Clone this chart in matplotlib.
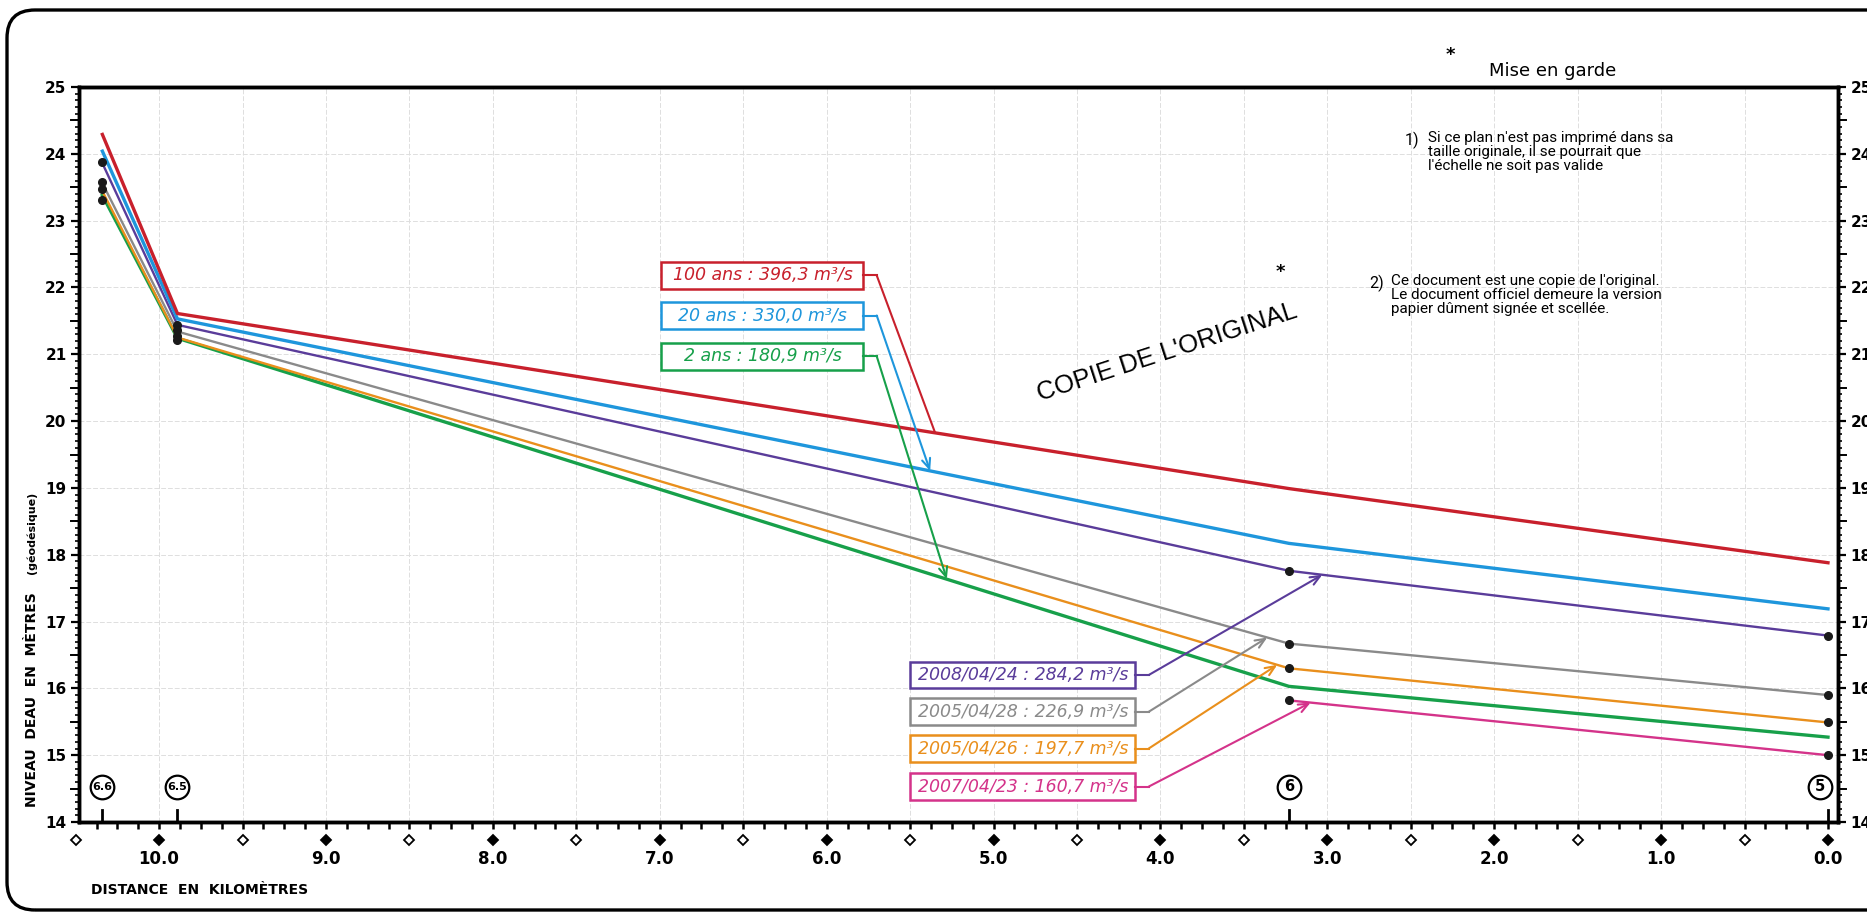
import numpy as np
import matplotlib.pyplot as plt
import matplotlib.transforms as mtransforms
from matplotlib.patches import FancyBboxPatch, Rectangle
from matplotlib.ticker import MultipleLocator, FixedLocator

plt.rcParams['font.family'] = ['DejaVu Sans']

# sections de calcul et leur distance (km)
stations = ['6.6', '6.5', '6', '5']
dist_km = [10.34, 9.89, 3.23, 0.0]

# niveaux d'eau calculés (m, géodésique) aux sections
niv_100ans = [24.29, 21.61, 18.99, 17.88]
niv_20ans = [24.04, 21.53, 18.17, 17.19]
niv_2ans = [23.38, 21.24, 16.03, 15.27]
niv_20080424 = [23.86, 21.44, 17.76, 16.79]
niv_20050428 = [23.56, 21.34, 16.67, 15.90]
niv_20050426 = [23.44, 21.25, 16.30, 15.49]
niv_20070423 = [np.nan, np.nan, 15.82, 15.00]

# niveaux observés (points noirs)
obs_20080424 = [23.88, 21.44, 17.76, 16.79]
obs_20050428 = [23.58, 21.36, 16.67, 15.90]
obs_20050426 = [23.48, 21.28, 16.30, 15.49]
obs_20070423 = [23.31, 21.21, 15.82, 15.00]

etiquettes = ['100 ans : 396,3 m³/s', '20 ans : 330,0 m³/s', '2 ans : 180,9 m³/s',
              '2008/04/24 : 284,2 m³/s', '2005/04/28 : 226,9 m³/s',
              '2005/04/26 : 197,7 m³/s', '2007/04/23 : 160,7 m³/s']

ROUGE = '#c8202c'
BLEU = '#1e96dc'
VERT = '#17a04a'
VIOLET = '#5a3c9a'
GRIS = '#8a8a8a'
ORANGE = '#e98f1c'
ROSE = '#d4338a'

W, H = 1867, 916
fig = plt.figure(figsize=(W / 100, H / 100), dpi=100)
ax = fig.add_axes([79 / W, 1 - 822 / H, (1838 - 79) / W, (822 - 87) / H])
ax.set_xlim(10.48, -0.06)
ax.set_ylim(14, 25)

# quadrillage
for xg in np.arange(0.5, 10.5, 0.5):
    ax.axvline(xg, color='#dedede', lw=0.7, ls=(0, (5, 2)), zorder=0)
for yg in range(15, 25):
    ax.axhline(yg, color='#dedede', lw=0.7, ls=(0, (5, 2)), zorder=0)

# profils
ax.plot(dist_km, niv_20070423, color=ROSE, lw=1.7, zorder=3)
ax.plot(dist_km, niv_2ans, color=VERT, lw=2.4, zorder=3)
ax.plot(dist_km, niv_20050426, color=ORANGE, lw=1.7, zorder=3)
ax.plot(dist_km, niv_20050428, color=GRIS, lw=1.7, zorder=3)
ax.plot(dist_km, niv_20080424, color=VIOLET, lw=1.7, zorder=3)
ax.plot(dist_km, niv_20ans, color=BLEU, lw=2.4, zorder=3)
ax.plot(dist_km, niv_100ans, color=ROUGE, lw=2.4, zorder=3)

for obs in (obs_20080424, obs_20050428, obs_20050426, obs_20070423):
    ax.plot(dist_km, obs, 'o', color='#1a1a1a', ms=5.5, zorder=4)


def etiquette(texte, couleur, x_g, x_d, y_c, serie, x_cible, fleche=True):
    ax.add_patch(Rectangle((x_d, y_c - 0.2), x_g - x_d, 0.4, fc='white',
                           ec=couleur, lw=1.8, zorder=5))
    ax.text((x_g + x_d) / 2, y_c, texte, color=couleur, ha='center', va='center',
            style='italic', fontsize=12.5, zorder=6)
    y_cible = np.interp(x_cible, dist_km[::-1], serie[::-1])
    x_coude = x_d - 0.08
    ax.plot([x_d, x_coude], [y_c, y_c], color=couleur, lw=1.5, zorder=5)
    ax.annotate('', xy=(x_cible, y_cible), xytext=(x_coude, y_c),
                arrowprops=dict(arrowstyle='->,head_length=0.7,head_width=0.3' if fleche else '-',
                                color=couleur, lw=1.5, shrinkA=0, shrinkB=0), zorder=5)


etiquette(etiquettes[0], ROUGE, 6.99, 5.78, 22.18, niv_100ans, 5.35, fleche=False)
etiquette(etiquettes[1], BLEU, 6.99, 5.78, 21.58, niv_20ans, 5.38)
etiquette(etiquettes[2], VERT, 6.99, 5.78, 20.97, niv_2ans, 5.28)
etiquette(etiquettes[3], VIOLET, 5.50, 4.15, 16.20, niv_20080424, 3.03)
etiquette(etiquettes[4], GRIS, 5.50, 4.15, 15.65, niv_20050428, 3.36)
etiquette(etiquettes[5], ORANGE, 5.50, 4.15, 15.10, niv_20050426, 3.30)
etiquette(etiquettes[6], ROSE, 5.50, 4.15, 14.53, niv_20070423, 3.10)

# sections
for nom, d in zip(stations, dist_km):
    ax.plot([d, d], [14, 14.18], color='black', lw=2, zorder=4)
    xc = max(d, 0.05)
    ax.plot(xc, 14.53, 'o', ms=17, mfc='white', mec='black', mew=1.6, zorder=4)
    ax.text(xc, 14.53, nom, ha='center', va='center', fontsize=8 if '.' in nom else 10.5,
            fontweight='bold', zorder=5)

# axes
for s in ax.spines.values():
    s.set_linewidth(2.5)
ax.xaxis.set_major_locator(FixedLocator(np.arange(0, 11, 1)))
ax.xaxis.set_minor_locator(MultipleLocator(0.125))
ax.set_xticklabels(['%.1f' % v for v in np.arange(0, 11, 1)])
ax.tick_params(axis='x', which='both', direction='out', length=5, width=1.8, pad=15,
               labelsize=12)
ax.yaxis.set_major_locator(MultipleLocator(1))
ax.yaxis.set_minor_locator(MultipleLocator(0.1))
ax.tick_params(axis='y', which='major', direction='out', length=6, width=1.6, pad=3,
               labelsize=11)
ax.tick_params(axis='y', which='minor', direction='out', length=3, width=1.2)
for lab in ax.get_xticklabels() + ax.get_yticklabels():
    lab.set_fontweight('bold')

axd = ax.twinx()
axd.set_ylim(14, 25)
axd.yaxis.set_major_locator(MultipleLocator(1))
axd.yaxis.set_minor_locator(MultipleLocator(0.1))
axd.tick_params(axis='y', which='major', direction='out', length=6, width=1.6, pad=3,
                labelsize=11)
axd.tick_params(axis='y', which='minor', direction='out', length=3, width=1.2)
for lab in axd.get_yticklabels():
    lab.set_fontweight('bold')
for s in axd.spines.values():
    s.set_linewidth(2.5)

# demi-graduations et losanges
tr_y = mtransforms.blended_transform_factory(ax.transAxes, ax.transData)
for yh in np.arange(14.5, 25, 1.0):
    ax.plot([-0.0045, 0], [yh, yh], color='black', lw=1.4, transform=tr_y, clip_on=False)
    ax.plot([1, 1.0045], [yh, yh], color='black', lw=1.4, transform=tr_y, clip_on=False)
tr_x = mtransforms.blended_transform_factory(ax.transData, ax.transAxes)
for xd in np.arange(0, 10.51, 0.5):
    plein = abs(xd - round(xd)) < 1e-6
    ax.plot(xd, -0.0245, 'D', ms=5, mec='black', mew=1.3,
            mfc='black' if plein else 'white', transform=tr_x, clip_on=False)

# titres d'axes
fig.text(32 / W, 1 - 700 / H, 'NIVEAU  DEAU  EN  MÈTRES', rotation=90, ha='center',
         va='center', fontsize=10, fontweight='bold')
fig.text(32 / W, 1 - 533 / H, '(géodésique)', rotation=90, ha='center', va='center',
         fontsize=8, fontweight='bold')
fig.text(91 / W, 1 - 890 / H, 'DISTANCE  EN  KILOMÈTRES', ha='left', va='center',
         fontsize=10, fontweight='bold')

# notes
police = ['Roboto', 'DejaVu Sans']
fig.text(1450 / W, 1 - 55 / H, '*', ha='center', va='center', fontsize=13, fontweight='bold')
fig.text(1553 / W, 1 - 71 / H, 'Mise en garde', ha='center', va='center', fontsize=13)
fig.text(1405 / W, 1 - 140 / H, '1)', ha='left', va='center', fontsize=11.5, family=police)
fig.text(1428 / W, 1 - 131 / H,
         "Si ce plan n'est pas imprimé dans sa\ntaille originale, il se pourrait que\n"
         "l'échelle ne soit pas valide", ha='left', va='top', fontsize=11, family=police,
         linespacing=1.0)
fig.text(1369 / W, 1 - 283 / H, '2)', ha='left', va='center', fontsize=11.5, family=police)
fig.text(1391 / W, 1 - 274 / H,
         "Ce document est une copie de l'original.\nLe document officiel demeure la version\n"
         "papier dûment signée et scellée.", ha='left', va='top', fontsize=11, family=police,
         linespacing=1.0)
fig.text(1280 / W, 1 - 272 / H, '*', ha='center', va='center', fontsize=13, fontweight='bold')
fig.text(1167 / W, 1 - 352 / H, "COPIE DE L'ORIGINAL", ha='center', va='center',
         fontsize=18.5, rotation=18, family=['Liberation Sans', 'DejaVu Sans'])

# cadre de la page
fig.patches.append(FancyBboxPatch((7, 6), W + 60, 900, boxstyle='round,pad=0,rounding_size=28',
                                  fc='none', ec='black', lw=2.4, transform=None))

fig.savefig('out.png', dpi=100)
